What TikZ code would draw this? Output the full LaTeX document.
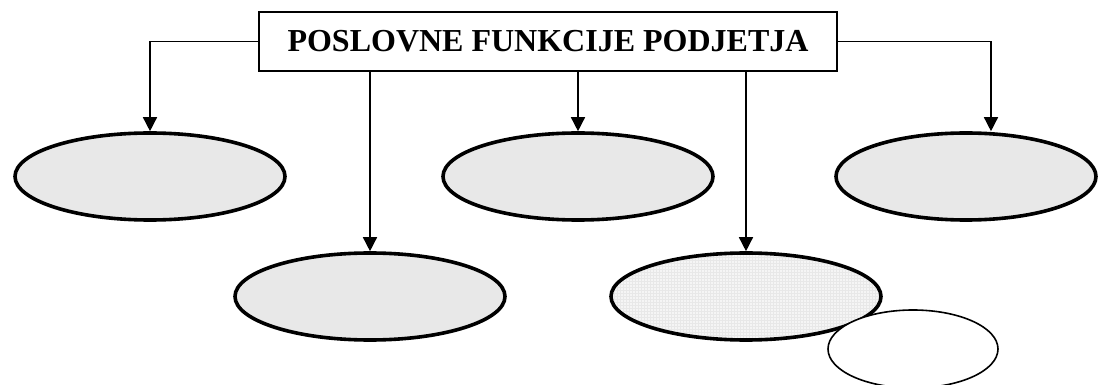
\documentclass[tikz,border=0pt]{standalone}
\usepackage{fontspec}
\setmainfont{Liberation Serif}
\usetikzlibrary{shapes.geometric,arrows.meta}

\begin{document}
\begin{tikzpicture}[x=0.5pt,y=-0.5pt,
    funk/.style={ellipse, draw, line width=1.8pt, fill=black!9, minimum width=135pt, minimum height=43.5pt},
    arr/.style={line width=0.75pt, -{Triangle[width=7pt,length=7pt]}}]
    \useasboundingbox (0,0) rectangle (1100,385);
    \node[draw, line width=1.2pt, minimum width=289pt, minimum height=29.5pt, font=\bfseries\fontsize{16}{19}\selectfont] (f) at (548,41.5) {POSLOVNE FUNKCIJE PODJETJA};
    % ellipses, top row then bottom row
    \node[funk] (e1) at (150,176.5) {};
    \node[funk] (e2) at (578,176.5) {};
    \node[funk, minimum width=130pt] (e3) at (966,176.5) {};
    \node[funk] (e4) at (370,296.5) {};
    \node[funk, fill=black!4, path picture={\draw[black!9, line width=0.2pt] (path picture bounding box.south west) grid[step=1.5pt] (path picture bounding box.north east);}] (e5) at (746,296.5) {};
    \node[ellipse, draw, line width=0.8pt, fill=white, minimum width=85pt, minimum height=39pt] (s) at (913,349) {};
    \draw[arr] (f.west) -| (e1.north);
    \draw[arr] (f.east) -| ([xshift=12.5pt]e3.north);
    \foreach \i in {2,4,5} \draw[arr] (f.south -| e\i.north) -- (e\i.north);
  \end{tikzpicture}
\end{document}
